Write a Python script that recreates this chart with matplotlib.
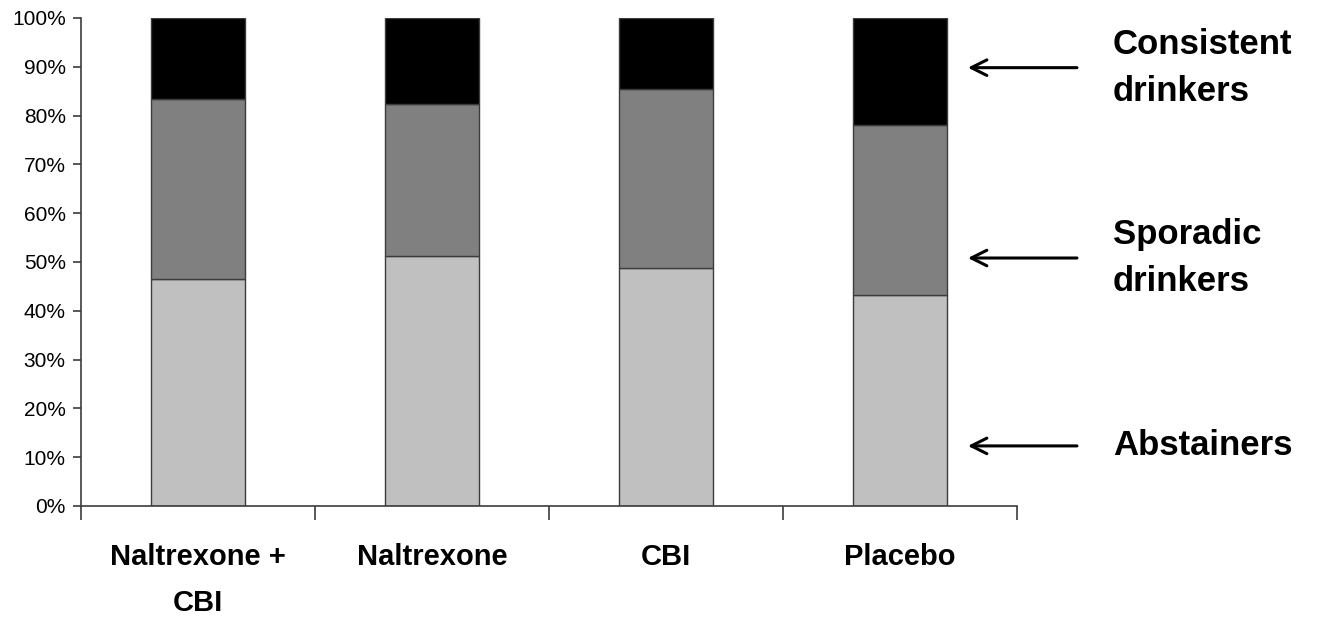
import numpy as np
import matplotlib
matplotlib.use('Agg')
import matplotlib.pyplot as plt
from matplotlib.ticker import PercentFormatter

plt.rcParams['font.family'] = ['Liberation Sans', 'DejaVu Sans']

# ---- data (fraction of patients in each drinking group) ----
groups = ['Naltrexone +\nCBI', 'Naltrexone', 'CBI', 'Placebo']
abstainers = [0.465, 0.512, 0.488, 0.432]
sporadic = [0.369, 0.312, 0.367, 0.349]
consistent = [0.166, 0.176, 0.145, 0.219]

# right-hand annotations: label text and the height the arrow points at
side_labels = ['Consistent\ndrinkers', 'Sporadic\ndrinkers', 'Abstainers']
side_label_y = [0.898, 0.508, 0.123]

colors = ['#c0c0c0', '#808080', '#000000']
edge = '#3c3c3c'

fig = plt.figure(figsize=(13.21, 6.17), dpi=100)
ax = fig.add_axes([0.0613, 0.180, 0.7086, 0.791])

x = np.arange(len(groups))
bottom = np.zeros(len(groups))
for vals, c in zip([abstainers, sporadic, consistent], colors):
    ax.bar(x, vals, width=0.4, bottom=bottom, color=c,
           edgecolor=edge, linewidth=1.0)
    bottom += np.array(vals)

ax.set_xlim(-0.5, len(groups) - 0.5)
ax.set_ylim(0, 1)

# y axis
ax.set_yticks(np.arange(0, 1.01, 0.1))
ax.yaxis.set_major_formatter(PercentFormatter(1.0, decimals=0))
ax.tick_params(axis='y', direction='out', length=6, width=1.2,
               color=edge, labelsize=15, pad=5)

# x axis: labels under bars, ticks on category boundaries
ax.set_xticks(x)
ax.set_xticklabels(groups, fontsize=21, fontweight='bold', linespacing=1.8,
                   va='top')
ax.tick_params(axis='x', which='major', length=0, pad=27)
ax.set_xticks(np.arange(-0.5, len(groups)), minor=True)
ax.tick_params(axis='x', which='minor', direction='out', length=10,
               width=1.2, color=edge)

for s in ['top', 'right']:
    ax.spines[s].set_visible(False)
for s in ['left', 'bottom']:
    ax.spines[s].set_color(edge)
    ax.spines[s].set_linewidth(1.2)

# arrows and group names on the right
for lab, yy in zip(side_labels, side_label_y):
    ax.annotate('', xy=(3.29, yy), xytext=(3.756, yy),
                xycoords='data', textcoords='data', annotation_clip=False,
                arrowprops=dict(arrowstyle='->', color='black', lw=2.2,
                                mutation_scale=28, shrinkA=0, shrinkB=0))
    ax.text(3.91, yy, lab, fontsize=25, fontweight='bold', ha='left',
            va='center', linespacing=1.55, clip_on=False)

fig.savefig('out.png', dpi=100, facecolor='white')
